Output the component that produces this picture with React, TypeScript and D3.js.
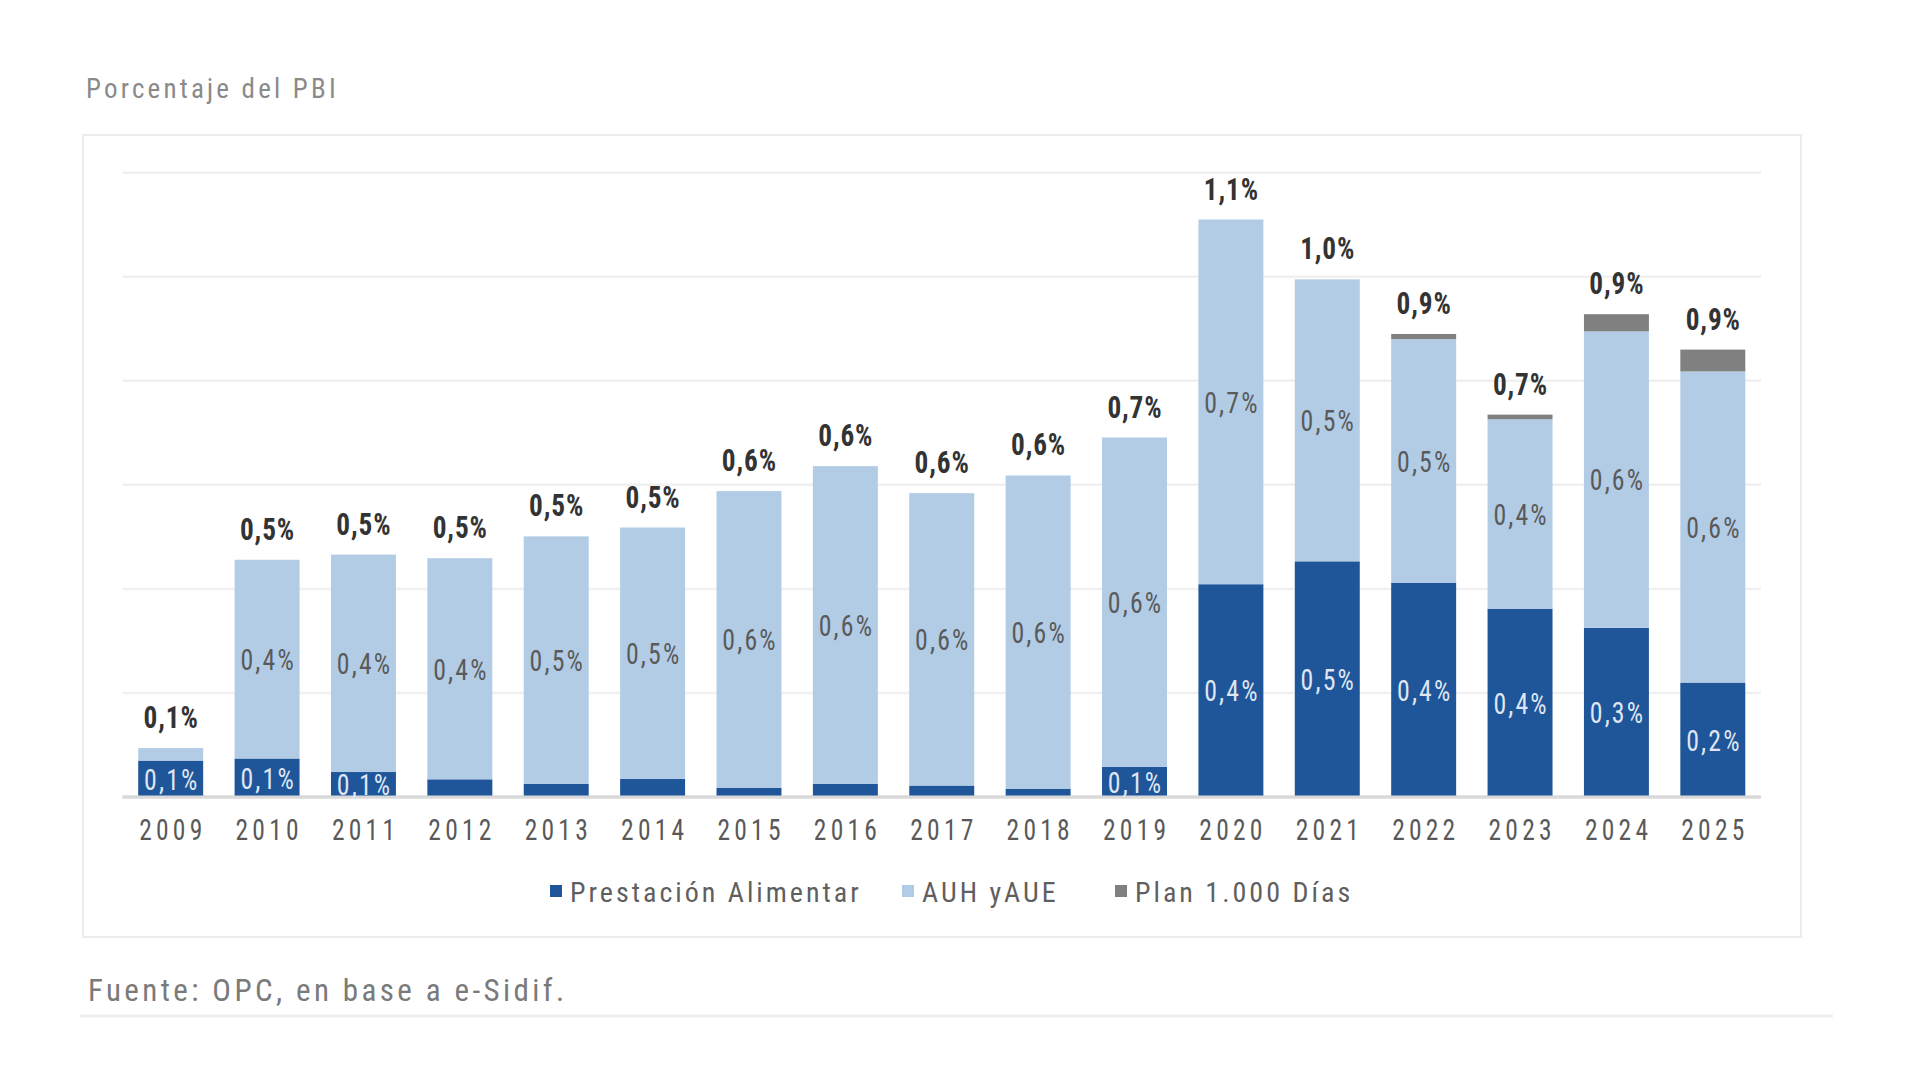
import React from "react";
import * as d3 from "d3";

const years = ["2009","2010","2011","2012","2013","2014","2015","2016","2017","2018","2019","2020","2021","2022","2023","2024","2025"];
const prestacionAlimentar = [0.070,0.074,0.048,0.034,0.025,0.035,0.018,0.025,0.022,0.016,0.058,0.409,0.453,0.412,0.362,0.325,0.220];
const auhYAue = [0.024,0.382,0.418,0.425,0.476,0.483,0.570,0.611,0.562,0.602,0.633,0.701,0.542,0.468,0.364,0.570,0.598];
const plan1000Dias = [0,0,0,0,0,0,0,0,0,0,0,0,0,0.010,0.009,0.033,0.042];

const totalLabels = ["0,1%","0,5%","0,5%","0,5%","0,5%","0,5%","0,6%","0,6%","0,6%","0,6%","0,7%","1,1%","1,0%","0,9%","0,7%","0,9%","0,9%"];
const auhLabels = ["","0,4%","0,4%","0,4%","0,5%","0,5%","0,6%","0,6%","0,6%","0,6%","0,6%","0,7%","0,5%","0,5%","0,4%","0,6%","0,6%"];
const prestacionLabels = ["0,1%","0,1%","0,1%","","","","","","","","0,1%","0,4%","0,5%","0,4%","0,4%","0,3%","0,2%"];

const seriesNames = ["Prestación Alimentar", "AUH yAUE", "Plan 1.000 Días"];
const seriesKeys = ["pa", "auh", "plan"];
const yTicks = [0, 0.2, 0.4, 0.6, 0.8, 1.0, 1.2];

const titleText = "Porcentaje del PBI";
const sourceText = "Fuente: OPC, en base a e-Sidif.";

const colors: Record<string, string> = { pa: "#1f5599", auh: "#b2cce6", plan: "#808080" };

const FONT = "'Liberation Sans Narrow', 'Arial Narrow', 'Roboto Condensed', 'DejaVu Sans Condensed', Roboto, sans-serif";

function NText(props: { x: number; y: number; sx?: number; dy?: string; size: number; fill: string; ls?: number; weight?: string; children: any }) {
  const { x, y, sx = 0.86, dy, size, fill, ls = 0, weight = "normal", children } = props;
  return (
    <text transform={`translate(${x + (ls * sx) / 2},${y}) scale(${sx},1)`} dy={dy} textAnchor="middle" fontSize={size} fill={fill} letterSpacing={ls} fontWeight={weight}>
      {children}
    </text>
  );
}

export default function App() {
  const W = 1920, H = 1080;
  const x0 = 122.5, x1 = 1761, yBase = 797, yTop = 172.7;

  const rows = years.map((y, i) => ({ year: y, pa: prestacionAlimentar[i], auh: auhYAue[i], plan: plan1000Dias[i] }));
  const stack = d3.stack<any>().keys(seriesKeys);
  const stacked = stack(rows);

  const x = d3.scaleBand<string>().domain(years).range([x0, x1]).paddingInner(0.326).paddingOuter(0.163);
  const y = d3.scaleLinear().domain([0, 1.2]).range([yBase, yTop]);
  const bw = x.bandwidth();
  const cx = (yr: string) => (x(yr) as number) + bw / 2;

  const legendX = [550, 902, 1115];

  return (
    <svg width={W} height={H} viewBox={`0 0 ${W} ${H}`} style={{ position: "absolute", left: 0, top: 0, display: "block", background: "#fff" }} fontFamily={FONT}>
      <rect x={0} y={0} width={W} height={H} fill="#fff" />
      <text x={86} y={97.5} fontSize={27} fill="#8a8a8a" letterSpacing={3.2}>{titleText}</text>
      <rect x={83} y={135} width={1718} height={802} fill="#fff" stroke="#ececec" strokeWidth={2} />
      {yTicks.map((t) => (
        <line key={t} x1={x0} x2={x1} y1={y(t)} y2={y(t)} stroke={t === 0 ? "#d9d9d9" : "#f0f0f0"} strokeWidth={t === 0 ? 3 : 2.5} />
      ))}
      {stacked.map((s) => (
        <g key={s.key} fill={colors[s.key]}>
          {s.map((d, i) => (
            d[1] - d[0] > 0 ? (
              <rect key={i} x={x(years[i])} y={y(d[1])} width={bw} height={y(d[0]) - y(d[1])} />
            ) : null
          ))}
        </g>
      ))}
      <line x1={x0} x2={x1} y1={yBase} y2={yBase} stroke="#d9d9d9" strokeWidth={3} />
      {stacked[0].map((d, i) => prestacionLabels[i] ? (
        <NText key={"pl" + i} x={cx(years[i])} y={y((d[0] + d[1]) / 2)} dy="0.36em" size={30} fill="#dfe6f2" ls={2.5}>{prestacionLabels[i]}</NText>
      ) : null)}
      {stacked[1].map((d, i) => auhLabels[i] ? (
        <NText key={"al" + i} x={cx(years[i])} y={y((d[0] + d[1]) / 2)} dy="0.36em" size={30} fill="#5a5a5a" ls={2.5}>{auhLabels[i]}</NText>
      ) : null)}
      {stacked[2].map((d, i) => (
        <NText key={"tl" + i} x={cx(years[i])} y={y(d[1]) - 20} size={31} fill="#333" ls={1} sx={0.88} weight="bold">{totalLabels[i]}</NText>
      ))}
      {years.map((yr) => (
        <NText key={yr} x={cx(yr)} y={840} size={30} fill="#595959" ls={5} sx={0.85}>{yr}</NText>
      ))}
      {seriesNames.map((n, i) => (
        <g key={n}>
          <rect x={legendX[i]} y={885} width={12} height={12} fill={colors[seriesKeys[i]]} />
          <text x={legendX[i] + 20} y={902} fontSize={28} fill="#5f5f5f" letterSpacing={3}>{n}</text>
        </g>
      ))}
      <text x={88} y={1001} fontSize={31} fill="#7a7a7a" letterSpacing={3.4}>{sourceText}</text>
      <line x1={80} x2={1833} y1={1016} y2={1016} stroke="#f0f0f0" strokeWidth={3} />
    </svg>
  );
}
